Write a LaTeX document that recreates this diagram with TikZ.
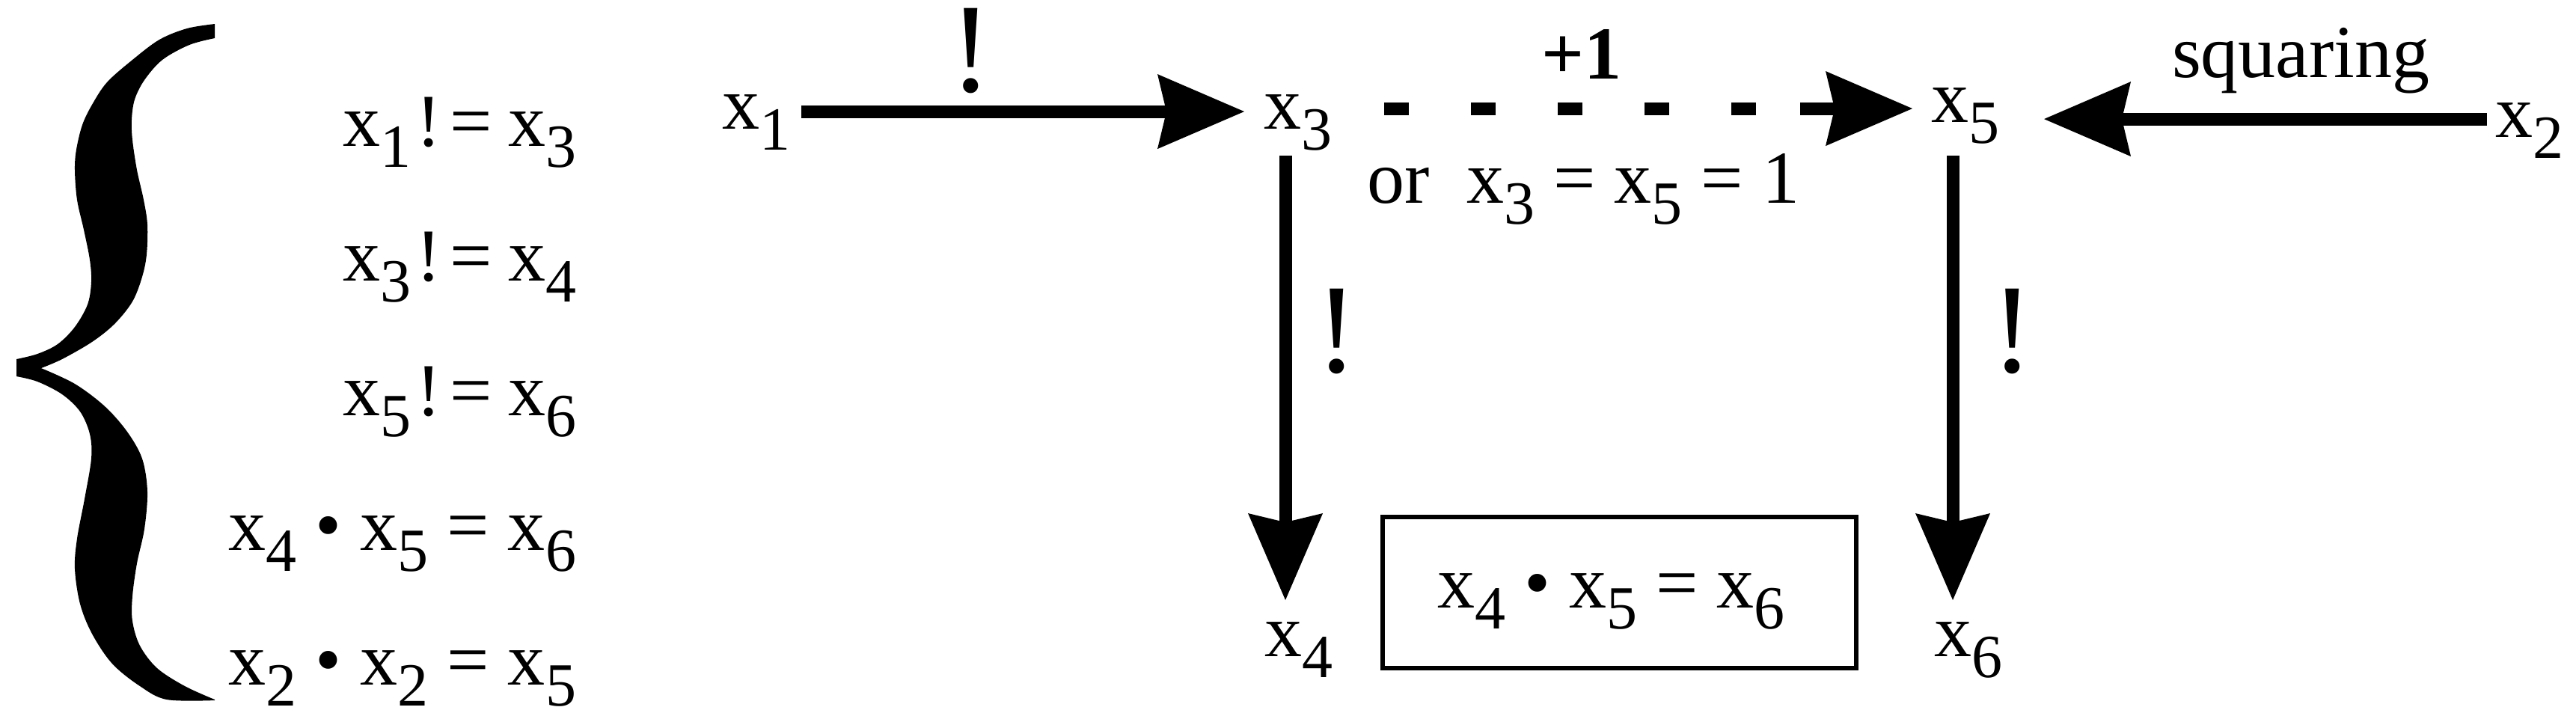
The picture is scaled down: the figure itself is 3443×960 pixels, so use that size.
\documentclass[tikz,border=0pt]{standalone}
\usepackage{fontspec}
\setmainfont{Liberation Serif}
\usetikzlibrary{arrows.meta,calc}
\newcommand{\xv}[1]{x\raisebox{-2.8pt}{\fontsize{8.2pt}{9pt}\selectfont #1}}
\newcommand{\facteq}[2]{\xv{#1}\kern0.7pt!\kern1.2pt=\kern2.1pt\xv{#2}}
\begin{document}
\begin{tikzpicture}[x=0.1pt,y=-0.1pt,
  txt/.style={inner sep=0pt, outer sep=0pt, font=\fontsize{10pt}{12pt}\selectfont},
  bang/.style={inner sep=0pt, outer sep=0pt, font=\fontsize{17pt}{20pt}\selectfont},
  arr/.style={line width=1.7pt, -{Stealth[length=11.6pt,width=10pt,inset=1.2pt,line width=0pt]}},
  eqbox/.style={draw, line width=0.6pt, inner sep=0pt, minimum width=63.3pt, minimum height=20.2pt,
    text height=6pt, text depth=2pt, font=\fontsize{10pt}{12pt}\selectfont},
  dashedarr/.style={arr, dash pattern=on 3.3pt off 8.3pt on 3.3pt off 8.3pt on 3.3pt off 8.3pt on 3.3pt off 8.3pt on 3.3pt off 5.9pt on 30pt}
  ]
\useasboundingbox (0,0) rectangle (3443,960);

% brace
\fill (287,32) -- plot[smooth, tension=0.55] coordinates {(287,32) (250,38) (213,53) (177,80) (143,110) (123,140) (110,167) (102,200) (100,227) (103,267) (112,307) (120,347) (122,377) (117,407) (100,437) (77,460) (50,473) (22,480)}
 -- (22,503) -- plot[smooth,tension=0.55] coordinates {(22,503) (50,510) (83,527) (107,550) (120,580) (122,613) (113,667) (103,720) (100,760) (107,807) (123,847) (150,887) (187,917) (223,935) (287,936)}
 -- (287,935) -- plot[smooth,tension=0.55] coordinates {(287,935) (247,917) (210,893) (187,863) (177,830) (177,797) (183,753) (193,707) (197,657) (190,613) (170,577) (140,543) (100,513) (55,492)}
 -- plot[smooth,tension=0.55] coordinates {(55,492) (83,480) (123,457) (153,433) (177,403) (190,370) (196,340) (197,300) (192,267) (183,227) (177,187) (176,160) (180,133) (193,107) (217,80) (253,60) (287,51)}
 -- cycle;

% equations
\node[txt, anchor=base east] (e1) at (770,195) {\facteq{1}{3}};
\node[txt, anchor=base east] (e2) at (770,375) {\facteq{3}{4}};
\node[txt, anchor=base east] (e3) at (770,555) {\facteq{5}{6}};
\node[txt, anchor=base east] (e4) at (770,735) {\xv{4} • \xv{5} = \xv{6}};
\node[txt, anchor=base east] (e5) at (770,915) {\xv{2} • \xv{2} = \xv{5}};

% variable nodes
\node[txt, anchor=base west] (x1) at (965,172) {\xv{1}};
\node[txt, anchor=base west] (x3) at (1689,172) {\xv{3}};
\node[txt, anchor=base west] (x5) at (2581,163) {\xv{5}};
\node[txt, anchor=base west] (x2) at (3335,183) {\xv{2}};
\node[txt, anchor=base west] (x4) at (1690,877) {\xv{4}};
\node[txt, anchor=base west] (x6) at (2585,877) {\xv{6}};

% box
\node[eqbox] (box) at (2164.5,792) {\xv{4} • \xv{5} = \xv{6}\kern2.2pt};

% labels
\node[bang, anchor=base] (l13) at (1298,122) {!};
\node[bang, anchor=base] (l34) at (1787,497) {!};
\node[bang, anchor=base] (l56) at (2690,497) {!};
\node[txt, anchor=base west] (plus) at (2060,105) {\textbf{+1}};
\node[txt, anchor=base west] (cond) at (1827,271) {or\ \ \xv{3} = \xv{5} = 1};
\node[txt, anchor=base west] (sq) at (2903,103) {squaring};

% arrows
\draw[arr] ($(x1.mid east)+(15,0)$) -- ($(x3.mid west)+(-26,0)$);
\draw[dashedarr] ($(x3.mid east)+(70,-4)$) -- ($(x5.mid west)+(-25,5)$);
\draw[arr] ($(x2.mid west)+(-11,-1)$) -- ($(x5.mid east)+(60,19)$);
\draw[arr] ($(x3.base west)+(29,36)$) -- ($(x4.base west)+(28,-75)$);
\draw[arr] ($(x5.base west)+(29,45)$) -- ($(x6.base west)+(25,-75)$);
\end{tikzpicture}
\end{document}
